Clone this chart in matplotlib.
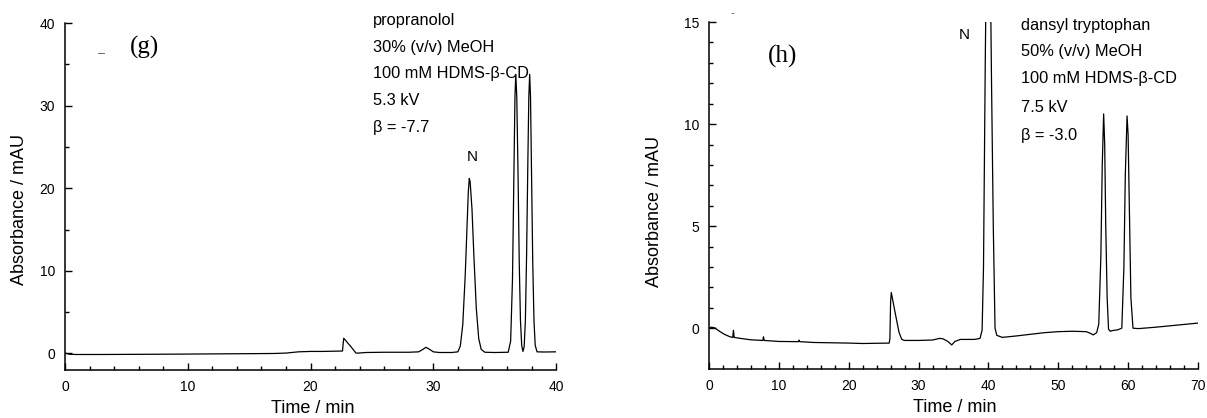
import numpy as np
import matplotlib.pyplot as plt

plt.rcParams['font.family'] = ['Liberation Sans', 'DejaVu Sans']

## (g) propranolol electropherogram
time_g = [0, 0.4, 1, 3, 6, 9, 12, 15, 17, 18, 19, 20, 21, 22, 22.6,
          22.7, 22.9, 23.3, 23.7, 23.9, 24.5, 26, 28, 28.8, 29.1, 29.4,
          29.7, 30.0, 30.5, 31.5, 32.0, 32.2, 32.4, 32.6, 32.75, 32.85,
          32.93, 33.0, 33.15, 33.3, 33.5, 33.7, 33.9, 34.2, 35.0, 36.1,
          36.3, 36.45, 36.55, 36.65, 36.72, 36.8, 36.9, 37.0, 37.1, 37.2,
          37.3, 37.4, 37.5, 37.6, 37.7, 37.78, 37.85, 37.92, 38.0, 38.1,
          38.2, 38.3, 38.45, 39.0, 40]
abs_g = [0.05, -0.1, -0.12, -0.12, -0.1, -0.08, -0.05, -0.02, 0.0, 0.05,
         0.2, 0.25, 0.25, 0.28, 0.3,
         1.85, 1.5, 0.8, 0.05, 0.05, 0.12, 0.15, 0.15, 0.2, 0.45, 0.75,
         0.5, 0.2, 0.12, 0.12, 0.2, 0.9, 3.5, 9.5, 15.5, 19.5,
         21.2, 20.8, 17.5, 12.0, 5.5, 1.8, 0.5, 0.15, 0.12, 0.15,
         1.5, 9.0, 20.0, 31.0, 33.8, 31.0, 22.0, 11.0, 4.0, 1.0,
         0.25, 0.8, 4.0, 12.0, 23.0, 31.0, 33.8, 31.0, 22.0, 11.0,
         4.0, 1.0, 0.2, 0.18, 0.2]
text_g = ['propranolol', '30% (v/v) MeOH', '100 mM HDMS-\u03b2-CD',
          '5.3 kV', '\u03b2 = -7.7']
text_g_y = [40.3, 37.1, 33.9, 30.6, 27.3]

## (h) dansyl tryptophan electropherogram
time_h = [0, 0.3, 0.8, 1.5, 2.2, 3.0, 3.4, 3.5, 3.6, 4.5, 6, 7.7, 7.8,
          7.9, 10, 12.8, 12.9, 13.0, 15, 20, 22, 25.8, 25.9, 26.0, 26.1,
          26.4, 26.8, 27.2, 27.6, 28, 30, 32, 33, 33.5, 34.2, 34.75, 35.2,
          36, 38, 38.8, 39.1, 39.3, 39.55, 39.8, 40.0, 40.2, 40.45, 40.7,
          40.95, 41.2, 42, 44, 46, 48, 50, 52, 54, 54.6, 55, 55.5, 55.8,
          56.1, 56.3, 56.5, 56.65, 56.8, 57.0, 57.2, 57.45, 57.7, 58.5,
          59.1, 59.4, 59.6, 59.85, 60.0, 60.2, 60.4, 60.7, 61.5, 64, 67, 70]
abs_h = [0.0, 0.05, 0.02, -0.15, -0.3, -0.42, -0.45, -0.1, -0.45, -0.5,
         -0.57, -0.6, -0.42, -0.6, -0.65, -0.66, -0.58, -0.66, -0.7, -0.73,
         -0.75, -0.73, -0.5, 1.3, 1.75, 1.2, 0.5, -0.2, -0.55, -0.6, -0.6,
         -0.58, -0.5, -0.52, -0.65, -0.82, -0.65, -0.55, -0.55, -0.5, -0.1,
         3.0, 13.0, 21.0, 22.5, 20.0, 12.0, 5.0, 0.0, -0.35, -0.45, -0.38,
         -0.3, -0.22, -0.17, -0.15, -0.17, -0.25, -0.33, -0.22, 0.2, 3.5,
         8.0, 10.5, 9.0, 5.0, 1.5, -0.05, -0.15, -0.12, -0.08, 0.0, 3.0,
         7.5, 10.4, 9.5, 5.5, 1.5, 0.0, -0.02, 0.05, 0.15, 0.25]
text_h = ['dansyl tryptophan', '50% (v/v) MeOH', '100 mM HDMS-\u03b2-CD',
          '7.5 kV', '\u03b2 = -3.0']
text_h_y = [14.85, 13.55, 12.25, 10.8, 9.45]

fig = plt.figure(figsize=(12.07, 4.18), dpi=100)
ax1 = fig.add_axes([0.0539, 0.1148, 0.4068, 0.830])
ax2 = fig.add_axes([0.5874, 0.1172, 0.4051, 0.830])


def style(ax, xmax, ymax, ymaj, ymin_step):
    ax.set_xlim(0, xmax)
    ax.set_ylim(-2, ymax)
    ax.spines['top'].set_visible(False)
    ax.spines['right'].set_visible(False)
    for s in ['left', 'bottom']:
        ax.spines[s].set_linewidth(1.1)
    ax.set_xticks(np.arange(0, xmax + 1, 10))
    ax.set_xticks(np.arange(0, xmax + 1, 2), minor=True)
    ax.set_yticks(np.arange(0, ymax + 1, ymaj))
    ax.set_yticks(np.arange(0, ymax + 0.01, ymin_step), minor=True)
    ax.tick_params(which='major', direction='in', length=5, width=1.0,
                   labelsize=10, pad=7)
    ax.tick_params(which='minor', direction='in', length=3, width=1.0)
    ax.set_xlabel('Time / min', fontsize=13)
    ax.set_ylabel('Absorbance / mAU', fontsize=13)


# Visualising panel (g)
ax1.plot(time_g, abs_g, color='black', lw=0.9)
style(ax1, 40, 40, 10, 5)
ax1.xaxis.set_label_coords(0.505, -0.085)
ax1.yaxis.set_label_coords(-0.075, 0.464)
for s, yy in zip(text_g, text_g_y):
    ax1.text(25.1, yy, s, fontsize=11.8, va='center', ha='left', clip_on=False)
ax1.text(5.3, 37.1, '(g)', fontsize=18, family=['Liberation Serif'],
         va='center', ha='left')
ax1.text(33.2, 23.8, 'N', fontsize=11, va='center', ha='center')
ax1.text(3.0, 36.2, '\u2013', fontsize=9, color='0.35', va='center', ha='center')

# Visualising panel (h)
ax2.plot(time_h, abs_h, color='black', lw=0.9)
style(ax2, 70, 15, 5, 1)
ax2.xaxis.set_label_coords(0.503, -0.085)
ax2.yaxis.set_label_coords(-0.094, 0.453)
for s, yy in zip(text_h, text_h_y):
    ax2.text(44.66, yy, s, fontsize=11.8, va='center', ha='left', clip_on=False)
ax2.text(8.4, 13.3, '(h)', fontsize=18, family=['Liberation Serif'],
         va='center', ha='left')
ax2.text(36.6, 14.36, 'N', fontsize=11, va='center', ha='center')
ax2.text(3.4, 15.45, '-', fontsize=8, color='0.35', va='center', ha='center',
         clip_on=False)

plt.savefig('out.png', dpi=100)
